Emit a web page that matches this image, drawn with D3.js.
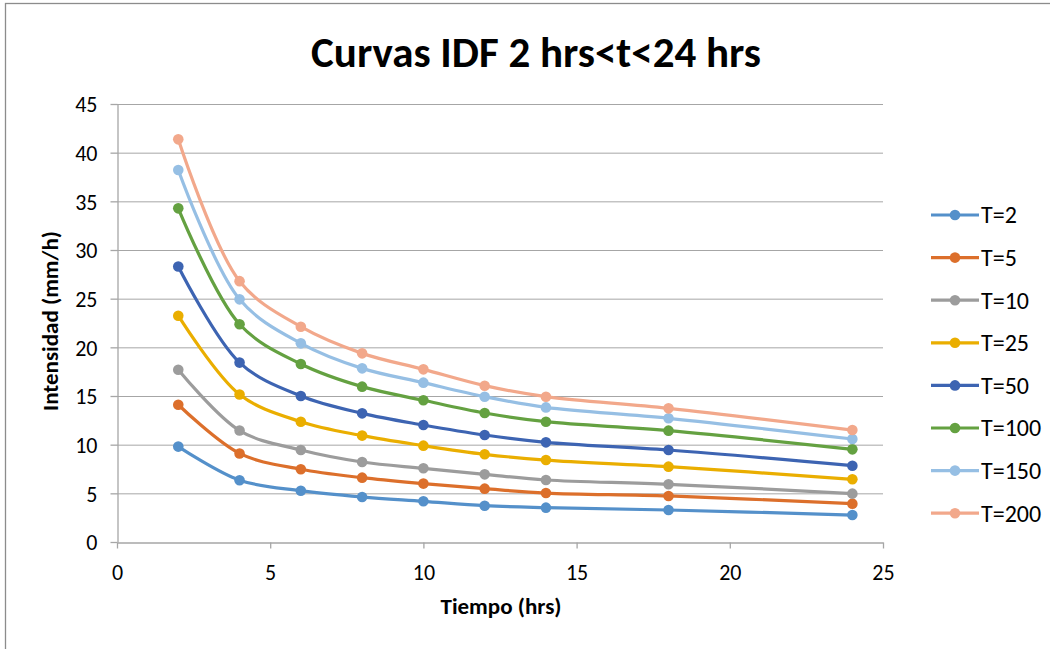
<!DOCTYPE html>
<html>
<head>
<meta charset="utf-8">
<script src="https://cdn.jsdelivr.net/npm/d3@7"></script>
<style>
  body { margin: 0; background: #fff; }
  text { font-family: Carlito, Calibri, "Liberation Sans Narrow", "Open Sans", sans-serif; fill: #000; }
</style>
</head>
<body>
<script>
// data
const tiempo = [2, 4, 6, 8, 10, 12, 14, 18, 24];
const seriesNames = ["T=2", "T=5", "T=10", "T=25", "T=50", "T=100", "T=150", "T=200"];
const t2   = [9.8, 6.35, 5.27, 4.62, 4.18, 3.73, 3.53, 3.29, 2.77];
const t5   = [14.1, 9.1, 7.47, 6.61, 6.0, 5.48, 5.03, 4.73, 3.94];
const t10  = [17.7, 11.45, 9.45, 8.22, 7.57, 6.95, 6.37, 5.93, 4.97];
const t25  = [23.25, 15.15, 12.36, 10.93, 9.9, 9.01, 8.42, 7.74, 6.44];
const t50  = [28.3, 18.43, 15.0, 13.22, 12.02, 10.99, 10.24, 9.45, 7.84];
const t100 = [34.28, 22.37, 18.29, 15.96, 14.56, 13.25, 12.36, 11.44, 9.52];
const t150 = [38.22, 24.93, 20.41, 17.84, 16.37, 14.93, 13.83, 12.71, 10.58];
const t200 = [41.37, 26.8, 22.12, 19.38, 17.74, 16.06, 14.93, 13.73, 11.5];
const seriesValues = [t2, t5, t10, t25, t50, t100, t150, t200];
const colors = ["#5490CA", "#DC6F2B", "#9C9C9C", "#EAAE00", "#3D64B2", "#64A141", "#96BFE4", "#F2A88B"];
const xTicks = [0, 5, 10, 15, 20, 25];
const yTicks = [0, 5, 10, 15, 20, 25, 30, 35, 40, 45];

const w = 1050;
const h = 649;
const plotLeft = 117, plotRight = 883, plotTop = 104, plotBottom = 542;

const svg = d3.select("body")
              .append("svg")
              .attr("width", w)
              .attr("height", h);

// chart border
svg.append("rect")
   .attr("x", 5.5).attr("y", 3.5)
   .attr("width", w + 10).attr("height", h + 10)
   .attr("fill", "none")
   .attr("stroke", "#8c8c8c")
   .attr("stroke-width", 1.3);

const xScale = d3.scaleLinear().domain([0, 25]).range([plotLeft, plotRight]);
const yScale = d3.scaleLinear().domain([0, 45]).range([plotBottom, plotTop]);

// gridlines
svg.append("g")
   .selectAll("line")
   .data(yTicks.filter(d => d > 0))
   .enter()
   .append("line")
   .attr("x1", plotLeft).attr("x2", plotRight)
   .attr("y1", d => yScale(d) + 0.5).attr("y2", d => yScale(d) + 0.5)
   .attr("stroke", "#a6a6a6")
   .attr("stroke-width", 1);

// axes
const xAxis = d3.axisBottom(xScale).tickValues(xTicks).tickSizeInner(6).tickSizeOuter(0).tickPadding(16);
const yAxis = d3.axisLeft(yScale).tickValues(yTicks).tickSizeInner(7).tickSizeOuter(0).tickPadding(13);

const gx = svg.append("g")
   .attr("transform", `translate(0, ${plotBottom + 0.5})`)
   .call(xAxis);
const gy = svg.append("g")
   .attr("transform", `translate(${plotLeft + 0.5}, 0)`)
   .call(yAxis);

[gx, gy].forEach(g => {
  g.select(".domain").attr("stroke", "#a6a6a6").attr("stroke-width", 1.3);
  g.selectAll(".tick line").attr("stroke", "#a6a6a6").attr("stroke-width", 1.3);
  g.selectAll(".tick text").style("font-size", "22px").attr("fill", "#000");
});
gy.selectAll(".tick text").attr("dy", "0.35em");

// lines
const line = d3.line()
               .x((d, i) => xScale(tiempo[i]))
               .y(d => yScale(d))
               .curve(d3.curveCatmullRom.alpha(0.5));

seriesValues.forEach((vals, k) => {
  svg.append("path")
     .datum(vals)
     .attr("d", line)
     .attr("fill", "none")
     .attr("stroke", colors[k])
     .attr("stroke-width", 3.2)
     .attr("stroke-linejoin", "round");
  svg.append("g")
     .selectAll("circle")
     .data(vals)
     .enter()
     .append("circle")
     .attr("cx", (d, i) => xScale(tiempo[i]))
     .attr("cy", d => yScale(d))
     .attr("r", 5.3)
     .attr("fill", colors[k]);
});

// title
svg.append("text")
   .attr("x", 536)
   .attr("y", 67)
   .attr("text-anchor", "middle")
   .style("font-size", "43px")
   .style("font-weight", "bold")
   .text("Curvas IDF 2 hrs<t<24 hrs");

// axis titles
svg.append("text")
   .attr("x", 501)
   .attr("y", 614)
   .attr("text-anchor", "middle")
   .style("font-size", "23px")
   .style("font-weight", "bold")
   .text("Tiempo (hrs)");

svg.append("text")
   .attr("transform", "translate(58, 321) rotate(-90)")
   .attr("text-anchor", "middle")
   .style("font-size", "23px")
   .style("font-weight", "bold")
   .text("Intensidad (mm/h)");

// legend
const legend = svg.append("g")
   .selectAll("g")
   .data(seriesNames)
   .enter()
   .append("g")
   .attr("transform", (d, i) => `translate(931, ${215 + i * 42.6})`);

legend.append("line")
   .attr("x1", 0).attr("x2", 48)
   .attr("stroke", (d, i) => colors[i])
   .attr("stroke-width", 3.2);
legend.append("circle")
   .attr("cx", 24)
   .attr("r", 5.3)
   .attr("fill", (d, i) => colors[i]);
legend.append("text")
   .attr("x", 50)
   .attr("dy", "0.35em")
   .style("font-size", "24px")
   .text(d => d);
</script>
</body>
</html>
